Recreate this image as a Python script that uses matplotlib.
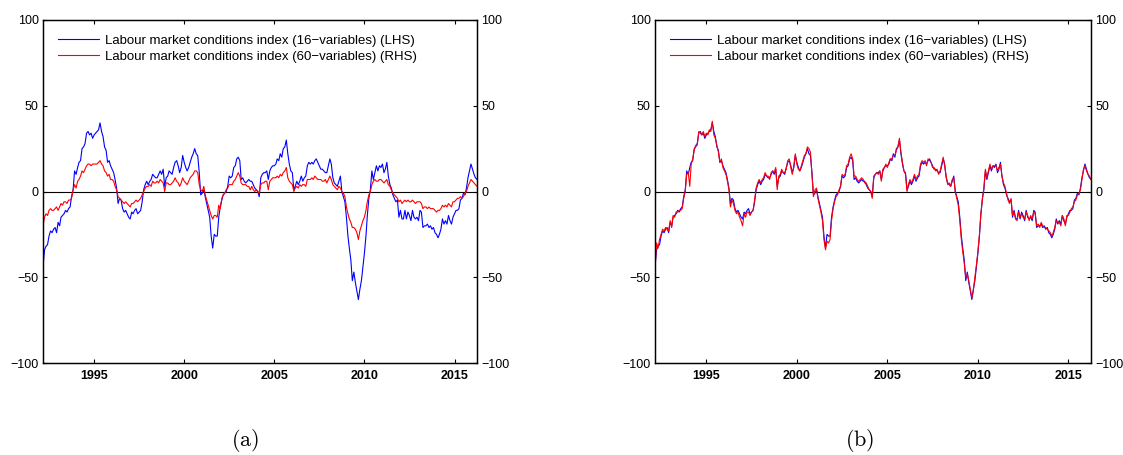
import matplotlib
matplotlib.use("Agg")
import matplotlib.pyplot as plt
import matplotlib.dates as mdates
import pandas as pd

plt.rcParams['font.family'] = ['Liberation Sans', 'DejaVu Sans']
plt.rcParams['mathtext.fontset'] = 'cm'

# monthly observations, Mar 1992 - Apr 2016
start_month = "1992-03"
n_months = 290

# LMCI 16 variables (same series in both panels)
lmci_16 = [
    -44, -34, -32, -31, -26, -23, -24, -22, -21, -24,
    -18, -20, -15, -14, -13, -11, -12, -10, -9, -3,
    1, 12, 10, 14, 17, 18, 25, 26, 28, 34,
    35, 33, 34, 31, 33, 34, 35, 36, 40, 35,
    32, 26, 24, 17, 18, 15, 13, 11, 7, 2,
    -7, -4, -5, -10, -12, -11, -13, -15, -16, -12,
    -13, -11, -10, -13, -12, -11, -6, 1, 4, 6,
    4, 6, 7,
    10, 9, 8, 8, 10, 12, 10, 13, 3, 8,
    9, 12, 11, 10, 14, 17, 18, 15, 11, 14,
    21, 17, 14, 12, 14, 17, 20, 22, 25, 22,
    21, 11, -2, -1, 1, -3, -7, -11, -15, -26,
    -33, -25, -26, -26, -15, -9, -5, -2, -1, 0,
    3, 9, 8, 9, 14, 15, 19, 20, 18, 7,
    8, 6, 5, 6, 7, 6, 6, 4, 2, 1,
    0, -3,
    8, 10, 11, 11, 12, 7, 12, 14, 15, 15,
    16, 19, 18, 22, 20, 25, 26, 30, 22, 16,
    12, 11, 1, 3, 6, 4, 6, 9, 6, 8,
    9, 15, 17, 16, 17, 16, 18, 19, 17, 15,
    13, 13, 12, 11, 11, 15, 19, 16, 8, 5,
    4, 3, 6, 9, 0, -3, -6, -15, -26, -33,
    -40, -52, -47, -53, -58, -63, -57, -52, -44, -36,
    -26, -14,
    -4, 1, 12, 7, 11, 15, 12, 15, 14, 16,
    11, 13, 17, 9, 4, 2, -2, -4, -6, -5,
    -15, -11, -16, -16, -11, -16, -12, -14, -17, -11,
    -15, -16, -15, -17, -11, -12, -21, -20, -20, -19,
    -21, -20, -22, -21, -24, -25, -27, -25, -22, -16,
    -19, -17, -19, -14, -17, -19, -15, -13, -11, -11,
    -10, -5, -4, -1, -2, 2, 8, 12, 16, 13,
    10, 8, 7,
]

# LMCI 60 variables, panel (a)
lmci_60_a = [
    -20, -15, -13, -14, -11, -10, -11, -11, -10, -9,
    -11, -9, -7, -8, -6, -6, -7, -5, -5, -4,
    1, 4, 2, 6, 7, 9, 12, 11, 13, 15,
    16, 16, 15, 16, 16, 16, 16, 17, 18, 16,
    15, 12, 11, 9, 10, 7, 7, 6, 3, 1,
    -3, -4, -5, -6, -7, -6, -7, -8, -9, -7,
    -7, -6, -5, -6, -5, -4, -2, 0, 2, 3,
    3, 4, 3,
    6, 5, 5, 6, 5, 7, 6, 5, 0, 5,
    5, 4, 4, 5, 6, 8, 6, 5, 3, 5,
    8, 6, 5, 4, 6, 8, 9, 10, 12, 12,
    11, 4, 1, 0, 3, -2, -5, -8, -11, -14,
    -16, -14, -14, -15, -8, -10, -4, -2, -1, 1,
    2, 4, 4, 4, 6, 7, 9, 11, 9, 5,
    4, 4, 4, 3, 3, 1, 3, 1, 0, 1,
    0, -1,
    4, 5, 5, 6, 6, 1, 6, 7, 8, 8,
    8, 9, 8, 10, 9, 11, 12, 14, 8, 6,
    5, 4, 0, 2, 3, 2, 4, 3, 4, 4,
    3, 7, 7, 7, 8, 7, 9, 8, 7, 7,
    7, 6, 6, 7, 5, 7, 9, 7, 4, 3,
    2, 1, 3, 2, 0, -1, -3, -9, -13, -16,
    -18, -21, -21, -22, -24, -28, -23, -20, -17, -15,
    -11, -6,
    -2, 0, 4, 6, 7, 6, 6, 7, 7, 6,
    5, 6, 7, 4, 3, 1, -1, -2, -3, -4,
    -6, -5, -7, -6, -5, -6, -5, -6, -6, -5,
    -6, -7, -6, -6, -6, -7, -10, -9, -9, -10,
    -9, -10, -10, -10, -11, -12, -11, -11, -10, -8,
    -9, -8, -9, -7, -8, -9, -6, -6, -5, -4,
    -4, -3, -4, -3, -1, 0, 3, 5, 7, 6,
    5, 4, 3,
]

# LMCI 60 variables, panel (b)
lmci_60_b = [
    -45, -30, -33, -28, -25, -22, -23, -21, -22, -23,
    -17, -21, -14, -15, -12, -12, -11, -11, -10, -4,
    0, 10, 11, 3, 16, 19, 24, 27, 27, 35,
    34, 33, 35, 32, 34, 33, 36, 35, 41, 33,
    31, 27, 23, 17, 19, 14, 12, 10, 6, 1,
    -9, -5, -7, -11, -13, -12, -15, -17, -20, -13,
    -15, -12, -12, -14, -12, -11, -5, 2, 5, 7,
    5, 7, 8,
    11, 9, 9, 7, 11, 12, 11, 14, 1, 9,
    10, 13, 11, 11, 13, 18, 19, 14, 10, 15,
    22, 16, 13, 12, 15, 18, 21, 22, 26, 25,
    23, 10, -3, 1, 2, -4, -8, -12, -17, -28,
    -34, -29, -30, -28, -17, -10, -6, -3, -2, 1,
    3, 10, 9, 10, 15, 16, 20, 22, 19, 9,
    9, 7, 6, 7, 8, 7, 5, 5, 3, 1,
    0, -4,
    9, 10, 11, 10, 12, 6, 13, 14, 16, 14,
    17, 19, 19, 21, 21, 24, 26, 31, 23, 17,
    12, 10, 0, 4, 7, 5, 7, 10, 7, 9,
    10, 16, 18, 17, 18, 15, 19, 18, 17, 14,
    14, 12, 13, 10, 12, 16, 20, 15, 9, 4,
    5, 3, 7, 8, 0, -4, -8, -17, -28, -35,
    -42, -50, -48, -52, -57, -62, -58, -50, -43, -35,
    -25, -13,
    -5, 2, 13, 8, 12, 16, 13, 15, 15, 15,
    12, 14, 16, 9, 5, 3, -1, -5, -7, -4,
    -14, -12, -16, -17, -12, -15, -13, -15, -16, -12,
    -14, -17, -14, -16, -12, -13, -20, -19, -21, -18,
    -20, -21, -21, -22, -23, -24, -26, -24, -21, -17,
    -18, -18, -20, -14, -16, -20, -14, -14, -12, -10,
    -9, -6, -5, -2, -1, 1, 7, 13, 15, 12,
    10, 9, 7,
]

label_16 = "Labour market conditions index (16\u2212variables) (LHS)"
label_60 = "Labour market conditions index (60\u2212variables) (RHS)"
yticks = [-100, -50, 0, 50, 100]

dates = pd.date_range(start_month, periods=n_months, freq="MS")


def draw_panel(fig, rect, red_values, tag, tag_x):
    ax = fig.add_axes(rect)
    ax2 = ax.twinx()
    l1, = ax.plot(dates, lmci_16, color=(0, 0, 1), lw=0.8)
    l2, = ax2.plot(dates, red_values, color=(1, 0, 0), lw=0.8)
    ax.axhline(0, color="k", lw=0.8, zorder=0)

    for a in (ax, ax2):
        a.set_ylim(-100, 100)
        a.set_yticks(yticks)
        a.set_xlim(dates[0], dates[-1])
        for s in a.spines.values():
            s.set_linewidth(0.9)
    ax.tick_params(axis="y", direction="in", length=3, labelsize=9, pad=3)
    ax2.tick_params(axis="y", direction="in", length=3, labelsize=9, pad=3)
    ax.tick_params(axis="x", direction="in", length=3, top=True, labelsize=9, pad=5)
    ax.xaxis.set_major_locator(mdates.YearLocator(5))
    ax.xaxis.set_major_formatter(mdates.DateFormatter("%Y"))
    for t in ax.get_xticklabels():
        t.set_fontweight("bold")

    ax2.legend([l1, l2], [label_16, label_60], loc="upper left",
               bbox_to_anchor=(0.034, 0.958), borderaxespad=0, borderpad=0,
               frameon=False, fontsize=9.5, handlelength=3.1, handletextpad=0.45,
               labelspacing=0.3)
    fig.text(tag_x, 1 - 441 / 455, tag, fontsize=16, ha="center", va="center")


fig = plt.figure(figsize=(11.23, 4.55), dpi=100)
draw_panel(fig, [43 / 1123, 1 - 363 / 455, 434 / 1123, 343 / 455], lmci_60_a,
           r"$\mathrm{(a)}$", 245 / 1123)
draw_panel(fig, [655 / 1123, 1 - 363 / 455, 436 / 1123, 343 / 455], lmci_60_b,
           r"$\mathrm{(b)}$", 860 / 1123)

fig.savefig("out.png", dpi=100)
